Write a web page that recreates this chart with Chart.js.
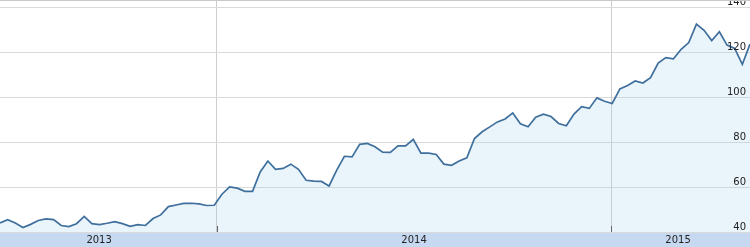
<!DOCTYPE html>
<html><head><meta charset="utf-8">
<script src="https://cdn.jsdelivr.net/npm/chart.js@4"></script>
<style>html,body{margin:0;padding:0;background:#fff}#wrap{width:750px;height:247px;position:relative}</style>
</head><body><div id="wrap"><canvas id="c"></canvas></div>
<script>
// weekly closing values
const values = [
  44.0, 45.5, 44.0, 42.0, 43.4, 45.1, 45.8, 45.5, 42.9, 42.4,
  43.7, 46.9, 43.7, 43.3, 43.9, 44.6, 43.7, 42.5, 43.3, 42.9,
  46.0, 47.6, 51.3, 52.0, 52.7, 52.8, 52.5, 51.8, 51.9, 56.8,
  60.1, 59.5, 58.1, 58.1, 66.7, 71.6, 67.9, 68.3, 70.2, 67.9,
  63.0, 62.6, 62.5, 60.5, 67.5, 73.7, 73.4, 79.0, 79.4, 77.9,
  75.5, 75.4, 78.3, 78.3, 81.2, 75.1, 75.1, 74.5, 70.2, 69.7,
  71.6, 73.0, 81.6, 84.6, 86.8, 89.0, 90.3, 93.0, 88.2, 86.8,
  91.1, 92.4, 91.4, 88.3, 87.3, 92.5, 95.8, 95.0, 99.7, 98.2,
  97.2, 103.7, 105.2, 107.2, 106.3, 108.7, 115.2, 117.6, 117.1, 121.3,
  124.3, 132.5, 129.8, 125.2, 129.1, 123.2, 121.7, 114.6, 123.6
];
// week numbers (categories)
const weeks = values.map((v, i) => i);
// y-axis tick labels
const yTicks = [40, 60, 80, 100, 120, 140];
const yMin = 40, yMax = 143.25;
// year boundaries (in weeks) and year label positions (in weeks)
const yearStarts = [28.3, 79.85];
const yearLabels = ['2013', '2014', '2015'];
const yearLabelPos = [12.95, 54.1, 88.6];

const near = (a, b) => Math.abs(a - b) < 1e-6;
const FONT = { family: '"DejaVu Sans", Verdana, sans-serif', size: 10 };

const extras = {
  id: 'extras',
  afterDraw(chart) {
    const { ctx, chartArea, scales } = chart;
    ctx.save();
    ctx.strokeStyle = '#c8c8c8';
    ctx.lineWidth = 1;
    ctx.beginPath();
    ctx.moveTo(0, 0.5); ctx.lineTo(chart.width, 0.5);
    ctx.stroke();
    ctx.strokeStyle = '#666';
    yearStarts.forEach(v => {
      const x = Math.round(scales.x.getPixelForValue(v)) + 0.5;
      ctx.beginPath();
      ctx.moveTo(x, chartArea.bottom - 6); ctx.lineTo(x, chartArea.bottom);
      ctx.stroke();
    });
    ctx.restore();
  }
};

new Chart(document.getElementById('c'), {
  type: 'line',
  data: {
    datasets: [{
      data: weeks.map((w, i) => ({ x: w, y: values[i] })),
      borderColor: '#3f6f9d',
      borderWidth: 1.7,
      backgroundColor: 'rgba(160,205,235,0.22)',
      fill: 'start',
      pointRadius: 0,
      tension: 0
    }]
  },
  options: {
    responsive: true,
    maintainAspectRatio: false,
    animation: false,
    layout: { padding: 0 },
    plugins: { legend: { display: false }, tooltip: { enabled: false } },
    scales: {
      x: {
        type: 'linear',
        min: weeks[0],
        max: weeks[weeks.length - 1],
        position: 'bottom',
        backgroundColor: '#c6d9f1',
        border: { display: false },
        afterBuildTicks: s => {
          s.ticks = [...yearStarts, ...yearLabelPos].sort((a, b) => a - b).map(v => ({ value: v }));
        },
        afterFit: s => { s.height = 15; s.paddingLeft = 0; s.paddingRight = 0; },
        grid: {
          drawTicks: false,
          color: c => (c.tick && yearStarts.some(v => near(v, c.tick.value))) ? '#cdcdcd' : 'rgba(0,0,0,0)'
        },
        ticks: {
          z: 1,
          autoSkip: false,
          maxRotation: 0,
          padding: 2,
          color: '#222',
          font: FONT,
          callback: v => {
            const i = yearLabelPos.findIndex(p => near(p, v));
            return i >= 0 ? yearLabels[i] : '';
          }
        }
      },
      y: {
        type: 'linear',
        position: 'right',
        min: yMin,
        max: yMax,
        border: { display: false },
        afterBuildTicks: s => { s.ticks = yTicks.map(v => ({ value: v })); },
        afterFit: s => { s.width = 0; s.paddingTop = 0; s.paddingBottom = 0; },
        grid: { drawTicks: false, color: '#dadada' },
        ticks: {
          z: 1,
          mirror: true,
          padding: -4,
          labelOffset: -4.5,
          color: '#222',
          font: FONT,
          callback: v => String(v)
        }
      }
    }
  },
  plugins: [extras]
});
</script>
</body></html>
